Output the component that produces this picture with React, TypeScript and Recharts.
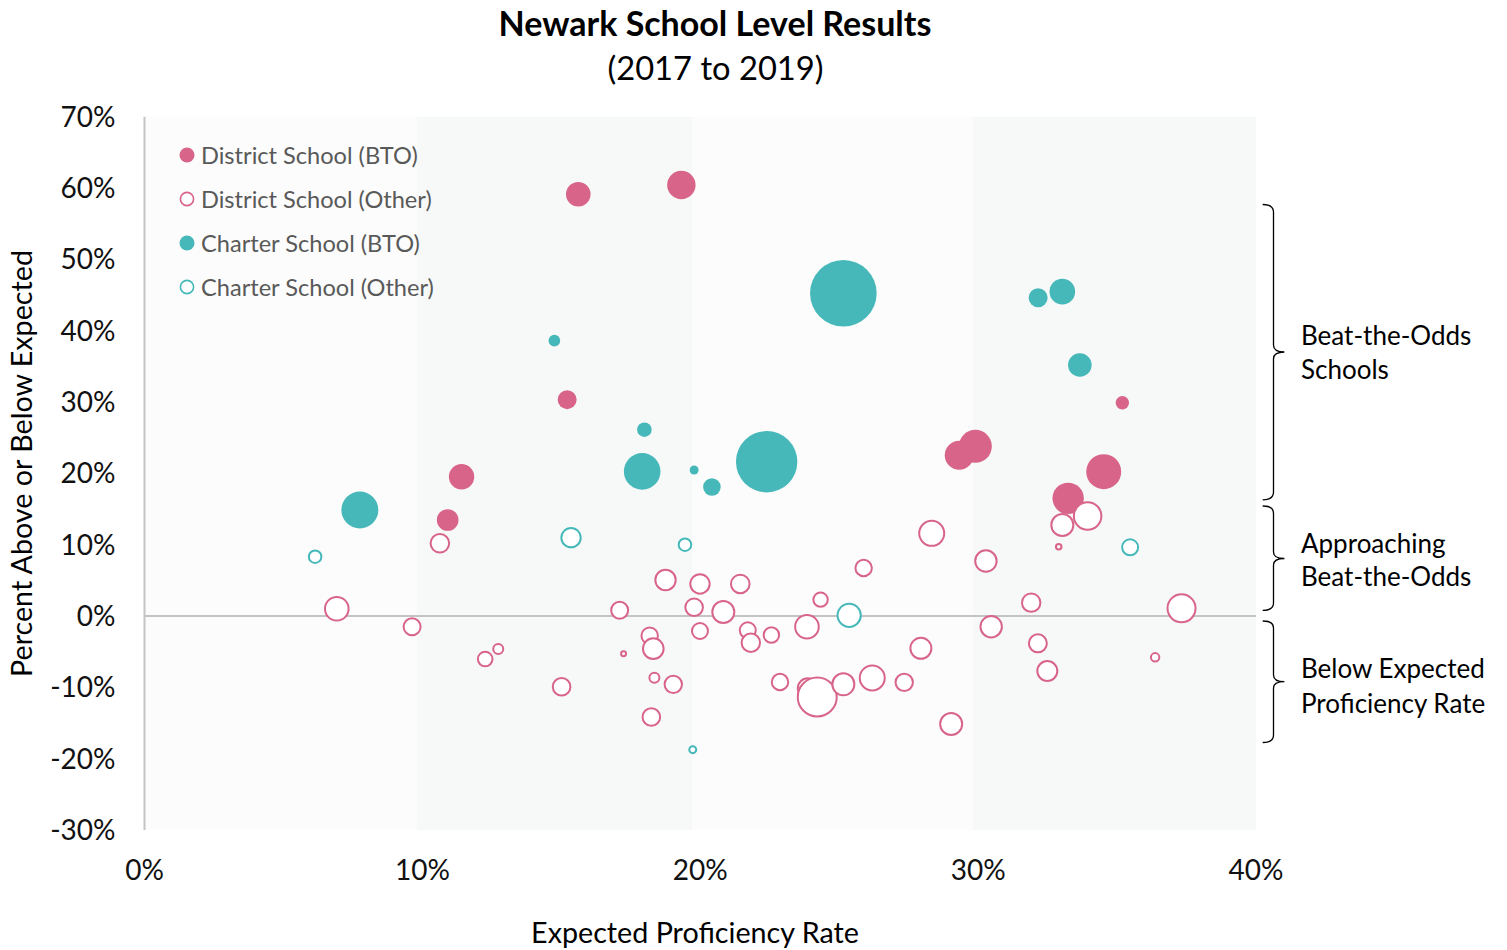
import React from 'react';
import { ScatterChart, Scatter, XAxis, YAxis, ZAxis, ReferenceArea, ReferenceLine } from 'recharts';

// x: expected proficiency rate (%), y: percent above/below expected (%), z: bubble size value
const districtBTO = [
  { x: 10.91, y: 13.46, z: 117 },
  { x: 11.41, y: 19.53, z: 161 },
  { x: 15.21, y: 30.33, z: 90 },
  { x: 15.61, y: 59.12, z: 151 },
  { x: 19.32, y: 60.42, z: 202 },
  { x: 29.32, y: 22.53, z: 210 },
  { x: 29.9, y: 23.79, z: 272 },
  { x: 33.24, y: 16.5, z: 246 },
  { x: 34.52, y: 20.23, z: 306 },
  { x: 35.19, y: 29.9, z: 45 },
];

const districtOther = [
  { x: 6.92, y: 1.02, z: 164 },
  { x: 9.63, y: -1.5, z: 90 },
  { x: 10.63, y: 10.19, z: 106 },
  { x: 12.26, y: -6.03, z: 69 },
  { x: 12.73, y: -4.63, z: 36 },
  { x: 15.01, y: -9.91, z: 96 },
  { x: 17.1, y: 0.8, z: 90 },
  { x: 17.24, y: -5.28, z: 12 },
  { x: 18.18, y: -2.76, z: 85 },
  { x: 18.31, y: -4.58, z: 128 },
  { x: 18.35, y: -8.64, z: 36 },
  { x: 18.24, y: -14.16, z: 96 },
  { x: 18.75, y: 5.05, z: 125 },
  { x: 19.03, y: -9.58, z: 94 },
  { x: 19.78, y: 1.22, z: 96 },
  { x: 19.99, y: 4.49, z: 114 },
  { x: 19.99, y: -2.1, z: 81 },
  { x: 20.83, y: 0.56, z: 144 },
  { x: 21.44, y: 4.49, z: 106 },
  { x: 21.71, y: -2.0, z: 81 },
  { x: 21.82, y: -3.74, z: 104 },
  { x: 22.56, y: -2.66, z: 76 },
  { x: 22.87, y: -9.25, z: 85 },
  { x: 23.84, y: -1.5, z: 164 },
  { x: 23.87, y: -10.14, z: 121 },
  { x: 24.21, y: -11.36, z: 420 },
  { x: 24.33, y: 2.29, z: 67 },
  { x: 25.15, y: -9.58, z: 144 },
  { x: 25.88, y: 6.73, z: 85 },
  { x: 26.19, y: -8.69, z: 182 },
  { x: 27.34, y: -9.3, z: 94 },
  { x: 27.94, y: -4.53, z: 132 },
  { x: 28.33, y: 11.59, z: 182 },
  { x: 29.03, y: -15.14, z: 144 },
  { x: 30.28, y: 7.71, z: 137 },
  { x: 30.47, y: -1.5, z: 137 },
  { x: 31.91, y: 1.87, z: 104 },
  { x: 32.15, y: -3.83, z: 100 },
  { x: 32.49, y: -7.71, z: 121 },
  { x: 32.9, y: 9.72, z: 14 },
  { x: 33.03, y: 12.76, z: 144 },
  { x: 33.94, y: 14.02, z: 218 },
  { x: 36.37, y: -5.79, z: 27 },
  { x: 37.32, y: 1.08, z: 225 },
];

const charterBTO = [
  { x: 7.75, y: 14.86, z: 342 },
  { x: 14.75, y: 38.6, z: 34 },
  { x: 17.99, y: 26.12, z: 53 },
  { x: 17.91, y: 20.27, z: 335 },
  { x: 19.78, y: 20.47, z: 20 },
  { x: 20.42, y: 18.08, z: 77 },
  { x: 22.39, y: 21.63, z: 942 },
  { x: 25.15, y: 45.24, z: 1109 },
  { x: 32.16, y: 44.62, z: 90 },
  { x: 33.03, y: 45.47, z: 164 },
  { x: 33.66, y: 35.19, z: 139 },
];

const charterOther = [
  { x: 6.14, y: 8.32, z: 53 },
  { x: 15.35, y: 10.98, z: 114 },
  { x: 19.45, y: 10.0, z: 53 },
  { x: 19.73, y: -18.74, z: 20 },
  { x: 25.36, y: 0.09, z: 159 },
  { x: 35.47, y: 9.63, z: 81 },
];

const xTicks = [0, 10, 20, 30, 40];
const yTicks = [-30, -20, -10, 0, 10, 20, 30, 40, 50, 60, 70];
// background band edges (x, in %), alternating light fills
const bandEdges = [0, 9.8, 19.7, 29.8, 40];
const legendItems = [
  { label: 'District School (BTO)', color: '#D86589', filled: true },
  { label: 'District School (Other)', color: '#D86589', filled: false },
  { label: 'Charter School (BTO)', color: '#46B8B9', filled: true },
  { label: 'Charter School (Other)', color: '#46B8B9', filled: false },
];

const PINK = '#D86589';
const TEAL = '#46B8B9';
const FONT = 'Lato, "Open Sans", sans-serif';
const BAND_FILLS = ['#FCFCFC', '#F7F9F9'];

const makeShape = (fill: string, stroke: string, sw: number) => (props: any) => {
  const { cx, cy } = props;
  let r = props.size != null ? Math.sqrt(Math.max(props.size, 0) / Math.PI) : (props.width || 0) / 2;
  if (sw > 0) r = Math.max(r - sw / 2, 1);
  return <circle cx={cx} cy={cy} r={r} fill={fill} stroke={stroke} strokeWidth={sw} />;
};

const W = 1507;
const H = 950;

export default function App() {
  return (
    <div style={{ position: 'absolute', left: 0, top: 0, width: W, height: H, background: '#fff', fontFamily: FONT }}>
      <ScatterChart
        width={W}
        height={H}
        margin={{ top: 116.7, right: 251, bottom: 60, left: 84.5 }}
      >
        <XAxis
          type="number"
          dataKey="x"
          domain={[0, 40]}
          ticks={xTicks}
          tickFormatter={(v: number) => `${v}%`}
          axisLine={false}
          tickLine={false}
          tickSize={0}
          tickMargin={30}
          height={60}
          tick={{ fill: '#111', fontSize: 28, fontFamily: FONT }}
          allowDataOverflow
        />
        <YAxis
          type="number"
          dataKey="y"
          domain={[-30, 70]}
          ticks={yTicks}
          tickFormatter={(v: number) => `${v}%`}
          axisLine={{ stroke: '#C4C4C4', strokeWidth: 2 }}
          tickLine={false}
          tickSize={0}
          tickMargin={29}
          width={60}
          tick={{ fill: '#111', fontSize: 28, fontFamily: FONT }}
          allowDataOverflow
        />
        <ZAxis type="number" dataKey="z" domain={[0, 1200]} range={[0, 1200 * Math.PI]} />
        {bandEdges.slice(0, -1).map((x1, i) => (
          <ReferenceArea
            key={`band-${i}`}
            x1={x1}
            x2={bandEdges[i + 1]}
            y1={-30}
            y2={70}
            fill={BAND_FILLS[i % 2]}
            fillOpacity={1}
            stroke="none"
          />
        ))}
        <ReferenceLine y={0} stroke="#C4C4C4" strokeWidth={2} />
        <Scatter data={districtBTO} isAnimationActive={false} shape={makeShape(PINK, 'none', 0)} />
        <Scatter data={districtOther} isAnimationActive={false} shape={makeShape('#FFFFFF', PINK, 2)} />
        <Scatter data={charterBTO} isAnimationActive={false} shape={makeShape(TEAL, 'none', 0)} />
        <Scatter data={charterOther} isAnimationActive={false} shape={makeShape('#FFFFFF', TEAL, 2)} />
      </ScatterChart>
      <svg
        width={W}
        height={H}
        style={{ position: 'absolute', left: 0, top: 0, pointerEvents: 'none' }}
        fontFamily={FONT}
      >
        <text x={715} y={36} textAnchor="middle" fontSize={34} fontWeight={700} fill="#000">
          Newark School Level Results
        </text>
        <text x={715.5} y={80} textAnchor="middle" fontSize={32.7} fill="#000">
          (2017 to 2019)
        </text>
        {legendItems.map((it, i) => {
          const cy = 155 + i * 44;
          return (
            <g key={it.label}>
              {it.filled ? (
                <circle cx={187} cy={cy} r={7.5} fill={it.color} />
              ) : (
                <circle cx={187} cy={cy} r={6.6} fill="#fff" stroke={it.color} strokeWidth={1.6} />
              )}
              <text x={201} y={cy + 8.5} fontSize={23.6} fill="#595959">
                {it.label}
              </text>
            </g>
          );
        })}
        <text
          x={22}
          y={463.5}
          transform="rotate(-90 22 463.5)"
          textAnchor="middle"
          dy="0.36em"
          fontSize={28.7}
          fill="#000"
        >
          Percent Above or Below Expected
        </text>
        <text x={695} y={933} textAnchor="middle" dy="0.36em" fontSize={28.7} fill="#000">
          Expected Proficiency Rate
        </text>
        <g stroke="#000" strokeWidth={1.3} fill="none">
          <path d="M1262.7 204.5 Q1273.5 204.5 1273.5 212 V345 Q1273.5 352 1284.4 352 Q1273.5 352 1273.5 359 V492 Q1273.5 499.8 1262.7 499.8" />
          <path d="M1262.7 506 Q1273.5 506 1273.5 513 V552 Q1273.5 558.5 1284.4 558.5 Q1273.5 558.5 1273.5 565 V603 Q1273.5 610.3 1262.7 610.3" />
          <path d="M1262.7 621 Q1273.5 621 1273.5 628 V675 Q1273.5 681.7 1284.4 681.7 Q1273.5 681.7 1273.5 688 V735 Q1273.5 742.5 1262.7 742.5" />
        </g>
        <g fontSize={26} fill="#000">
          <text x={1301} y={336} dy="0.36em">Beat-the-Odds</text>
          <text x={1301} y={370} dy="0.36em">Schools</text>
          <text x={1301} y={544} dy="0.36em">Approaching</text>
          <text x={1301} y={577} dy="0.36em">Beat-the-Odds</text>
          <text x={1301} y={669} dy="0.36em">Below Expected</text>
          <text x={1301} y={704} dy="0.36em">Proficiency Rate</text>
        </g>
      </svg>
    </div>
  );
}
